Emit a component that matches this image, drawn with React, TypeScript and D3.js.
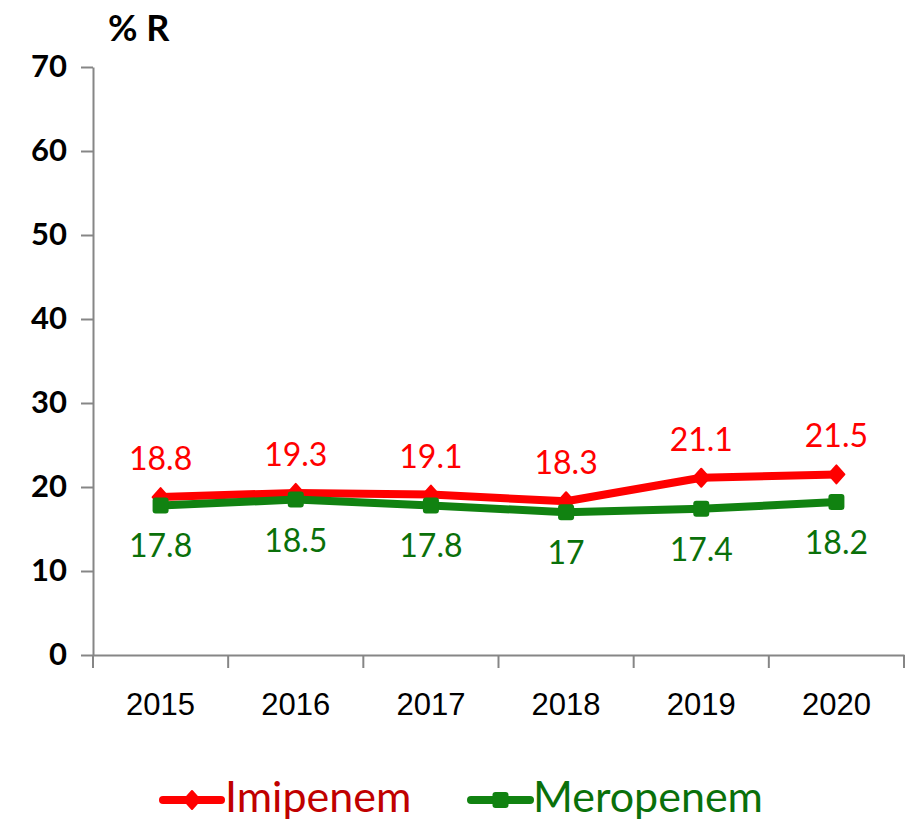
import { useEffect, useRef } from "react";
import * as d3 from "d3";

const years = ["2015", "2016", "2017", "2018", "2019", "2020"];
const imipenem = [18.8, 19.3, 19.1, 18.3, 21.1, 21.5];
const meropenem = [17.8, 18.5, 17.8, 17, 17.4, 18.2];
const yTicks = [0, 10, 20, 30, 40, 50, 60, 70];

const W = 913;
const H = 822;

const App = () => {
  const svgRef = useRef<SVGSVGElement>(null);

  useEffect(() => {
    document.body.style.margin = "0";
    const svg = d3.select(svgRef.current);
    svg.selectAll("*").remove();

    const left = 93;
    const right = 904;
    const top = 67;
    const bottom = 655;

    const x = d3.scaleBand().domain(years).range([left, right]).padding(0);
    const y = d3.scaleLinear().domain([0, 70]).range([bottom, top]);
    const cx = (d: string) => (x(d) as number) + x.bandwidth() / 2;

    const axisColor = "#868686";

    // y axis
    const yAxis = svg
      .append("g")
      .attr("transform", `translate(${left},0)`)
      .call(d3.axisLeft(y).tickValues(yTicks).tickSize(12).tickPadding(14).tickSizeOuter(0));
    yAxis.select(".domain").attr("stroke", axisColor).attr("stroke-width", 2);
    yAxis.selectAll(".tick line").attr("stroke", axisColor).attr("stroke-width", 2);
    yAxis
      .selectAll("text")
      .attr("fill", "#000")
      .style("font-family", "Lato, sans-serif")
      .style("font-weight", "bold")
      .style("font-size", "31px");

    // x axis, ticks drawn between categories
    const xAxis = svg
      .append("g")
      .attr("transform", `translate(0,${bottom})`)
      .call(d3.axisBottom(x).tickSize(0).tickPadding(38).tickSizeOuter(0));
    xAxis.select(".domain").attr("stroke", axisColor).attr("stroke-width", 2);
    xAxis
      .selectAll("text")
      .attr("fill", "#000")
      .style("font-family", "'Liberation Sans', Arial, sans-serif")
      .style("font-size", "31px");

    const boundaries = years.map((d) => x(d) as number).concat([right]);
    svg
      .append("g")
      .selectAll("line")
      .data(boundaries)
      .enter()
      .append("line")
      .attr("x1", (d) => d)
      .attr("x2", (d) => d)
      .attr("y1", bottom)
      .attr("y2", bottom + 13)
      .attr("stroke", axisColor)
      .attr("stroke-width", 2);

    svg
      .append("text")
      .attr("x", 108)
      .attr("y", 41)
      .attr("fill", "#000")
      .style("font-family", "Lato, sans-serif")
      .style("font-weight", "bold")
      .style("font-size", "36px")
      .text("% R");

    const line = d3
      .line<number>()
      .x((d, i) => cx(years[i]))
      .y((d) => y(d));

    const series = [
      { name: "Imipenem", values: imipenem, color: "#FF0000", label: "#FF0000", legend: "#C00000", marker: "diamond" },
      { name: "Meropenem", values: meropenem, color: "#118211", label: "#0A700A", legend: "#0A700A", marker: "square" },
    ];

    const drawMarker = (g: any, type: string, color: string, px: number, py: number) => {
      if (type === "diamond") {
        g.append("path")
          .attr("d", `M${px},${py - 9} L${px + 8},${py} L${px},${py + 9} L${px - 8},${py} Z`)
          .attr("fill", color)
          .attr("stroke", color)
          .attr("stroke-width", 2)
          .attr("stroke-linejoin", "round");
      } else {
        g.append("rect")
          .attr("x", px - 8)
          .attr("y", py - 8)
          .attr("width", 16)
          .attr("height", 16)
          .attr("rx", 3)
          .attr("fill", color);
      }
    };

    series.forEach((s) => {
      const g = svg.append("g");
      g.append("path")
        .datum(s.values)
        .attr("d", line)
        .attr("fill", "none")
        .attr("stroke", s.color)
        .attr("stroke-width", 8)
        .attr("stroke-linejoin", "round");
      s.values.forEach((v, i) => drawMarker(g, s.marker, s.color, cx(years[i]), y(v)));
    });

    series.forEach((s, si) => {
      svg
        .append("g")
        .selectAll("text")
        .data(s.values)
        .enter()
        .append("text")
        .attr("x", (d, i) => cx(years[i]))
        .attr("y", (d) => (si === 0 ? y(d) - 27 : y(d) + 52))
        .attr("text-anchor", "middle")
        .attr("fill", s.label)
        .style("font-family", "Lato, sans-serif")
        .style("font-size", "32px")
        .text((d) => String(d));
    });

    // legend
    const legendItems = [
      { s: series[0], x0: 163, x1: 221, tx: 225 },
      { s: series[1], x0: 471, x1: 530, tx: 533 },
    ];
    legendItems.forEach(({ s, x0, x1, tx }) => {
      const g = svg.append("g");
      g.append("line")
        .attr("x1", x0)
        .attr("x2", x1)
        .attr("y1", 800)
        .attr("y2", 800)
        .attr("stroke", s.color)
        .attr("stroke-width", 8)
        .attr("stroke-linecap", "round");
      drawMarker(g, s.marker, s.color, (x0 + x1) / 2, 800);
      g.append("text")
        .attr("x", tx)
        .attr("y", 812)
        .attr("fill", s.legend)
        .style("font-family", "Lato, sans-serif")
        .style("font-size", "43px")
        .text(s.name);
    });
  }, []);

  return <svg ref={svgRef} width={W} height={H} style={{ display: "block", background: "#fff" }}></svg>;
};

export default App;
